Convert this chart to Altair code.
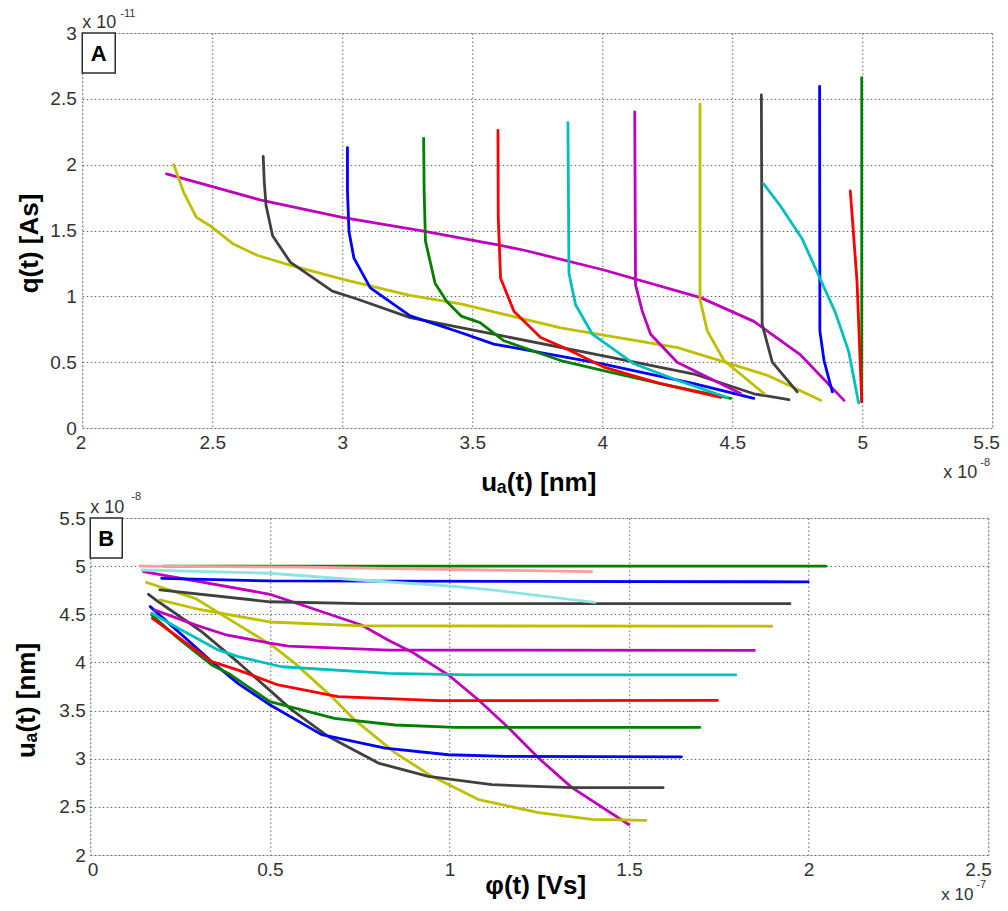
import altair as alt
import pandas as pd

# ---------------- data ----------------
# Panel A: u_a(t) [x1e-8] vs q(t) [x1e-11]
a01_u = [4.93, 4.76, 4.583, 4.378, 4.006, 3.70, 3.599, 3.529, 3.3125, 3.0, 2.6875, 2.324]
a01_q = [0.21, 0.56, 0.81, 0.99, 1.20, 1.35, 1.39, 1.415, 1.496, 1.60, 1.73, 1.93]
a02_u = [4.84, 4.635, 4.29, 3.84, 3.455, 3.255, 3.0, 2.802, 2.675, 2.579, 2.496, 2.439, 2.39, 2.352]
a02_q = [0.21, 0.40, 0.61, 0.76, 0.943, 1.01, 1.13, 1.235, 1.31, 1.40, 1.53, 1.60, 1.79, 2.0]
a03_u = [4.718, 4.583, 4.353, 4.0, 3.529, 3.261, 3.057, 2.962, 2.80, 2.732, 2.707, 2.70, 2.696]
a03_q = [0.215, 0.26, 0.41, 0.55, 0.733, 0.838, 0.98, 1.039, 1.26, 1.46, 1.69, 1.87, 2.063]
a04_u = [4.583, 4.353, 4.0, 3.583, 3.455, 3.261, 3.108, 3.045, 3.026, 3.02, 3.02]
a04_q = [0.225, 0.3375, 0.4875, 0.6375, 0.725, 0.851, 1.064, 1.29, 1.49, 1.8, 2.13]
a05_u = [4.494, 4.224, 4.0, 3.84, 3.622, 3.53, 3.457, 3.402, 3.357, 3.32, 3.315, 3.313]
a05_q = [0.225, 0.3375, 0.4375, 0.5125, 0.6625, 0.80, 0.85, 0.96, 1.10, 1.42, 1.8, 2.2]
a06_u = [4.455, 4.224, 4.006, 3.878, 3.763, 3.66, 3.609, 3.60, 3.599]
a06_q = [0.232, 0.3375, 0.4625, 0.5875, 0.6875, 0.8875, 1.1375, 1.6, 2.26]
a07_u = [4.481, 4.288, 4.122, 3.962, 3.897, 3.872, 3.868]
a07_q = [0.232, 0.3625, 0.4875, 0.7125, 0.9375, 1.175, 2.32]
a08_u = [4.532, 4.288, 4.186, 4.154, 4.128, 4.125]
a08_q = [0.2625, 0.50, 0.7125, 0.8875, 1.0875, 2.40]
a09_u = [4.622, 4.468, 4.404, 4.376, 4.376]
a09_q = [0.2625, 0.5125, 0.7375, 0.975, 2.46]
a10_u = [4.75, 4.654, 4.615, 4.612]
a10_q = [0.275, 0.50, 0.7875, 2.53]
a11_u = [4.885, 4.853, 4.837, 4.836]
a11_q = [0.275, 0.5125, 0.7375, 2.595]
a12_u = [4.998, 4.998]
a12_q = [0.2, 2.66]
a13_u = [4.998, 4.98, 4.961, 4.954]
a13_q = [0.2, 1.11, 1.616, 1.80]
a14_u = [4.986, 4.948, 4.896, 4.832, 4.768, 4.684, 4.62]
a14_q = [0.19, 0.58, 0.88, 1.16, 1.44, 1.69, 1.856]

# Panel B: phi(t) [x1e-7] vs u_a(t) [x1e-8]
b01_phi = [0.148, 0.5, 0.755, 0.83, 0.894, 0.997, 1.081, 1.165, 1.248, 1.341, 1.499]
b01_u = [4.943, 4.708, 4.389, 4.23, 4.112, 3.87, 3.61, 3.32, 3.007, 2.70, 2.317]
b02_phi = [0.157, 0.292, 0.375, 0.505, 0.57, 0.672, 0.737, 0.849, 0.951, 1.081, 1.248, 1.397, 1.547]
b02_u = [4.83, 4.666, 4.476, 4.18, 3.99, 3.645, 3.40, 3.06, 2.817, 2.576, 2.44, 2.369, 2.359]
b03_phi = [0.162, 0.19, 0.31, 0.412, 0.5, 0.56, 0.663, 0.802, 0.941, 1.118, 1.341, 1.595]
b03_u = [4.708, 4.63, 4.32, 4.0, 3.71, 3.51, 3.23, 2.955, 2.817, 2.73, 2.70, 2.70]
b04_phi = [0.167, 0.338, 0.412, 0.5, 0.644, 0.821, 0.997, 1.155, 1.646]
b04_u = [4.58, 4.009, 3.78, 3.56, 3.25, 3.11, 3.041, 3.024, 3.02]
b05_phi = [0.171, 0.245, 0.338, 0.384, 0.5, 0.68, 0.849, 1.016, 1.697]
b05_u = [4.493, 4.25, 3.974, 3.888, 3.593, 3.42, 3.35, 3.325, 3.325]
b06_phi = [0.173, 0.338, 0.412, 0.523, 0.69, 0.969, 1.746]
b06_u = [4.458, 4.009, 3.92, 3.766, 3.645, 3.603, 3.605]
b07_phi = [0.171, 0.245, 0.356, 0.412, 0.533, 0.83, 1.06, 1.797]
b07_u = [4.51, 4.355, 4.13, 4.06, 3.955, 3.886, 3.87, 3.87]
b08_phi = [0.18, 0.292, 0.375, 0.5, 0.551, 0.83, 1.849]
b08_u = [4.545, 4.39, 4.29, 4.20, 4.169, 4.128, 4.125]
b09_phi = [0.194, 0.292, 0.5, 0.755, 1.897]
b09_u = [4.649, 4.56, 4.42, 4.38, 4.376]
b10_phi = [0.194, 0.5, 0.755, 1.948]
b10_u = [4.753, 4.63, 4.61, 4.61]
b11_phi = [0.199, 0.5, 1.999]
b11_u = [4.874, 4.846, 4.837]
b12_phi = [0.204, 2.048]
b12_u = [5.0, 5.0]
b13_phi = [0.139, 0.6, 1.0, 1.396]
b13_u = [5.0, 4.99, 4.965, 4.944]
b14_phi = [0.144, 0.5, 0.75, 1.023, 1.136, 1.405]
b14_u = [4.96, 4.926, 4.856, 4.787, 4.745, 4.623]

A_SERIES = [(a01_u, a01_q), (a02_u, a02_q), (a03_u, a03_q), (a04_u, a04_q), (a05_u, a05_q),
            (a06_u, a06_q), (a07_u, a07_q), (a08_u, a08_q), (a09_u, a09_q), (a10_u, a10_q),
            (a11_u, a11_q), (a12_u, a12_q), (a13_u, a13_q), (a14_u, a14_q)]
B_SERIES = [(b01_phi, b01_u), (b02_phi, b02_u), (b03_phi, b03_u), (b04_phi, b04_u),
            (b05_phi, b05_u), (b06_phi, b06_u), (b07_phi, b07_u), (b08_phi, b08_u),
            (b09_phi, b09_u), (b10_phi, b10_u), (b11_phi, b11_u), (b12_phi, b12_u),
            (b13_phi, b13_u), (b14_phi, b14_u)]

A_XTICKS = [2, 2.5, 3, 3.5, 4, 4.5, 5, 5.5]
A_YTICKS = [0, 0.5, 1, 1.5, 2, 2.5, 3]
B_XTICKS = [0, 0.5, 1, 1.5, 2, 2.5]
B_YTICKS = [2, 2.5, 3, 3.5, 4, 4.5, 5, 5.5]

# ---------------- styles ----------------
NAMES = [f"s{i:02d}" for i in range(1, 15)]
M, Y, K, B, G, R, C = "#BF00BF", "#BFBF00", "#404040", "#0000FF", "#008000", "#FF0000", "#00BFBF"
COLORS_A = [M, Y, K, B, G, R, C, M, Y, K, B, G, R, C]
COLORS_B = [M, Y, K, B, G, R, C, M, Y, K, B, G, "#FF9C9C", "#8EE3E3"]
WIDTHS_A = [2.8] * 14
WIDTHS_B = [2.8] * 12 + [1.5, 1.5]

FONT = "Liberation Sans"
LBL = "#333333"
GRID = dict(grid=True, gridColor="#666666", gridDash=[1.5, 2.5], gridWidth=1)

W_A, H_A = 910, 395
W_B, H_B = 898, 337


def frame(series, xk, yk):
    rows = []
    for name, (xs, ys) in zip(NAMES, series):
        for i, (xv, yv) in enumerate(zip(xs, ys)):
            rows.append({"series": name, xk: xv, yk: yv, "i": i})
    return pd.DataFrame(rows)


def axis(values, title, **kw):
    opts = dict(values=values, format="~g", labelFont=FONT, labelFontSize=19,
                labelColor=LBL, labelFlush=False, labelOverlap=False, tickSize=0,
                domain=False, title=title, titleFont=FONT, titleFontSize=26,
                titleFontWeight="bold", titleColor="black", titleBaseline="top",
                titleAlign="center", **GRID)
    opts.update(kw)
    return alt.Axis(**opts)


ONE = pd.DataFrame({"k": [0]})


def txt(x, y, s, size, weight="normal", align="left", baseline="alphabetic", color=LBL):
    return alt.Chart(ONE).mark_text(font=FONT, fontSize=size, fontWeight=weight, align=align,
                                    baseline=baseline, color=color).encode(
        x=alt.value(x), y=alt.value(y), text=alt.value(s))


def box(x1, x2, y1, y2):
    return alt.Chart(ONE).mark_rect(fill="white", stroke="#2b2b2b", strokeWidth=1.5).encode(
        x=alt.value(x1), x2=alt.value(x2), y=alt.value(y1), y2=alt.value(y2))


# ---------------- panel A ----------------
dfA = frame(A_SERIES, "u", "q")
linesA = alt.Chart(dfA).mark_line(strokeCap="round", strokeJoin="round").encode(
    x=alt.X("u:Q", scale=alt.Scale(domain=[2, 5.5], nice=False, zero=False),
            axis=axis(A_XTICKS, "uₐ(t) [nm]", labelPadding=5, titleX=456, titleY=41,
                      labelFlush=True, labelFlushOffset=7)),
    y=alt.Y("q:Q", scale=alt.Scale(domain=[0, 3], nice=False, zero=False),
            axis=axis(A_YTICKS, "q(t) [As]", labelPadding=6, titleX=-66, titleY=210, titleAngle=-90)),
    color=alt.Color("series:N", scale=alt.Scale(domain=NAMES, range=COLORS_A), legend=None),
    strokeWidth=alt.StrokeWidth("series:N", scale=alt.Scale(domain=NAMES, range=WIDTHS_A), legend=None),
    order="i:Q",
)
panelA = alt.layer(
    linesA,
    txt(0, -5, "x 10", 18),
    txt(38, -16, "-11", 11),
    txt(861, H_A + 50, "x 10", 18),
    txt(898, H_A + 38, "-8", 11),
    box(0, 33, 0, 40),
    txt(16.5, 21, "A", 22, weight="bold", align="center", baseline="middle", color="black"),
).properties(width=W_A, height=H_A)

# ---------------- panel B ----------------
dfB = frame(B_SERIES, "phi", "u")
linesB = alt.Chart(dfB).mark_line(strokeCap="round", strokeJoin="round").encode(
    x=alt.X("phi:Q", scale=alt.Scale(domain=[0, 2.5], nice=False, zero=False),
            axis=axis(B_XTICKS, "φ(t) [Vs]", labelPadding=5, titleX=445, titleY=17,
                      labelFlush=True, labelFlushOffset=3)),
    y=alt.Y("u:Q", scale=alt.Scale(domain=[2, 5.5], nice=False, zero=False),
            axis=axis(B_YTICKS, "uₐ(t) [nm]", labelPadding=5, titleX=-77, titleY=182, titleAngle=-90)),
    color=alt.Color("series:N", scale=alt.Scale(domain=NAMES, range=COLORS_B), legend=None),
    strokeWidth=alt.StrokeWidth("series:N", scale=alt.Scale(domain=NAMES, range=WIDTHS_B), legend=None),
    order="i:Q",
)
panelB = alt.layer(
    linesB,
    txt(0, -5, "x 10", 18),
    txt(41, -18, "-8", 11),
    txt(851, H_B + 45, "x 10", 17),
    txt(886, H_B + 33, "-7", 11),
    box(0, 32, 0, 40),
    txt(16, 21, "B", 22, weight="bold", align="center", baseline="middle", color="black"),
).properties(width=W_B, height=H_B)

PAD = {"left": 4, "top": -1, "right": 0, "bottom": -1}
chart = alt.vconcat(panelA, panelB, spacing=-6, center=True).resolve_scale(
    color="independent", strokeWidth="independent"
).properties(padding=PAD).configure_view(
    stroke="#8a8a8a", strokeWidth=1.5
).configure(background="white", padding=PAD)

chart.save("out.html", embed_options={"renderer": "svg", "actions": False})
